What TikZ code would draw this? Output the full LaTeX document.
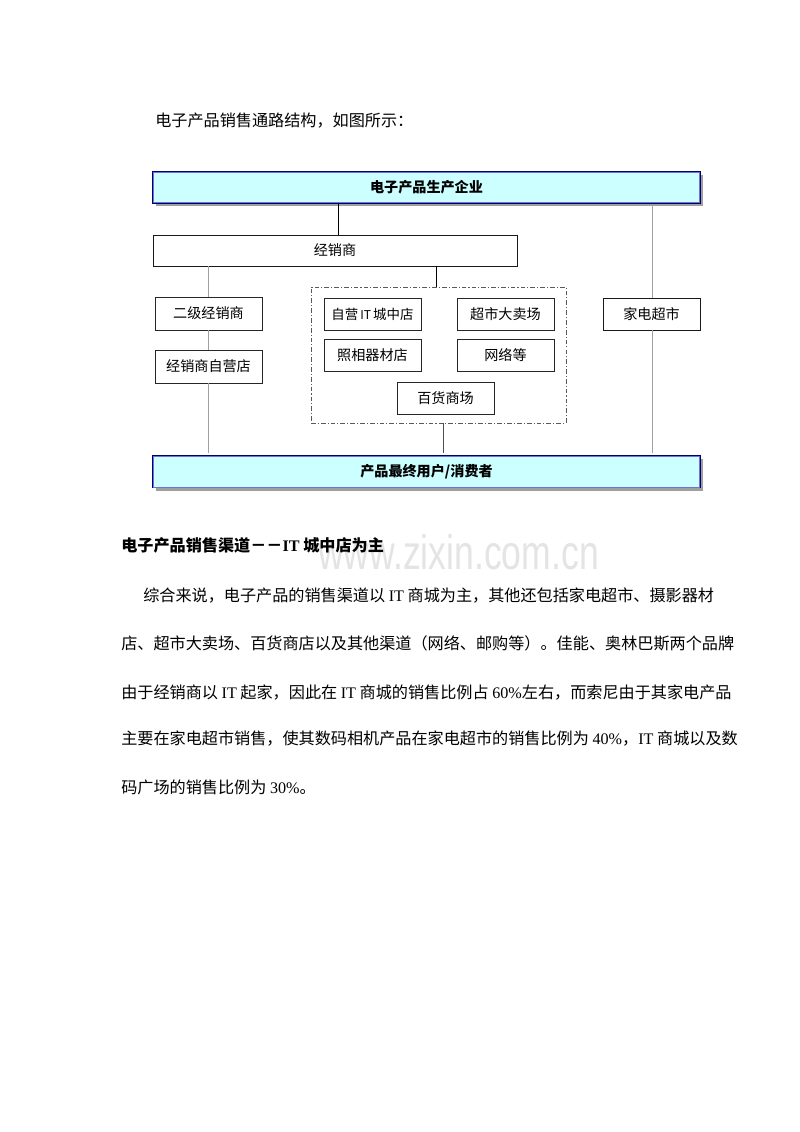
\documentclass[tikz,border=0pt]{standalone}
\usepackage{fontspec}
\setmainfont{Liberation Serif}
\newfontfamily\cjk{Noto Sans CJK SC}
\newfontfamily\lat{Liberation Serif}
\newfontfamily\wm{Liberation Sans}
\usetikzlibrary{shadows}
\definecolor{boxcyan}{HTML}{CCFFFF}
\definecolor{navy}{HTML}{000066}
\definecolor{innerblue}{HTML}{7070E0}
\definecolor{lineg}{HTML}{A0A0A0}
\definecolor{wmgray}{HTML}{E4E4E4}
\newcommand{\IT}{{\lat IT}}
\tikzset{
  x=0.744pt, y=-0.744pt,
  cyanbox/.style={draw=navy, line width=1.4pt, fill=boxcyan, inner sep=0pt,
    minimum width=547*0.744pt, minimum height=31*0.744pt,
    font=\cjk\fontsize{10.5}{12}\selectfont\bfseries,
    drop shadow={shadow xshift=3.2*0.744pt, shadow yshift=-3.2*0.744pt, fill=gray!75, opacity=1}},
  innerln/.style={draw=innerblue, line width=0.4pt},
  whitebox/.style={draw=black!85, line width=0.6pt, fill=white, inner sep=0pt,
    minimum width=97*0.744pt, minimum height=32*0.744pt,
    font=\cjk\fontsize{10.5}{12}\selectfont},
  shadowbox/.style={whitebox, draw=black!90, line width=0.7pt,
    drop shadow={shadow xshift=1.3*0.744pt, shadow yshift=-1.3*0.744pt, fill=gray!60, opacity=1}},
  cont/.style={draw=black!65, line width=0.6pt, dash pattern=on 3.5pt off 1.5pt on 0.8pt off 1.5pt,
    inner sep=0pt, minimum width=255*0.744pt, minimum height=136*0.744pt},
  blk/.style={draw=black, line width=0.6pt},
  gry/.style={draw=lineg, line width=0.7pt},
  dgry/.style={draw=black!70, line width=0.6pt},
  bodytext/.style={anchor=base west, inner sep=0pt, font=\cjk\fontsize{12}{14}\selectfont}
}
\begin{document}
\begin{tikzpicture}
\useasboundingbox[fill=white] (0,0) rectangle (800,1132);

% intro line
\node[bodytext] (intro) at (155,126) {电子产品销售通路结构，如图所示：};

% diagram
\node[cyanbox] (top) at (426.5,187.5) {电子产品生产企业};
\draw[innerln] ([shift={(1.6,1.6)}]top.north west) rectangle ([shift={(-1.6,-1.6)}]top.south east);
\node[shadowbox, minimum width=364*0.744pt, minimum height=31*0.744pt] (dealer) at (335,250.5) {经销商};
\node[whitebox, minimum width=107*0.744pt, minimum height=33*0.744pt] (d2) at (208.5,313.5) {二级经销商};
\node[whitebox, minimum width=107*0.744pt, minimum height=33*0.744pt] (d3) at (208.5,366.5) {经销商自营店};
\node[cont] (box) at (438.5,355) {};
\node[whitebox, font=\cjk\fontsize{10}{12}\selectfont] (it) at (372.5,314) {自营{\fontsize{9}{10}\selectfont\,IT\,}城中店};
\node[whitebox] (sm) at (505.5,314) {超市大卖场};
\node[whitebox] (ph) at (372.5,355.5) {照相器材店};
\node[whitebox] (net) at (505.5,355.5) {网络等};
\node[whitebox] (dept) at (445.5,398) {百货商场};
\node[shadowbox] (home) at (651.5,314) {家电超市};
\node[cyanbox, minimum height=32*0.744pt] (bot) at (426.5,471.5) {产品最终用户/消费者};
\draw[innerln] ([shift={(1.6,1.6)}]bot.north west) rectangle ([shift={(-1.6,-1.6)}]bot.south east);

\coordinate (xa) at (338,0);
\coordinate (xb) at (652,0);
\coordinate (xc) at (208,0);
\coordinate (xd) at (436,0);
\coordinate (xe) at (443,0);

\draw[blk] (top.south -| xa) -- (dealer.north -| xa);
\draw[gry] ([yshift=-1pt]top.south -| xb) -- (home.north -| xb);
\draw[gry] (home.south -| xb) -- ([yshift=1pt]bot.north -| xb);
\draw[gry] (dealer.south -| xc) -- (d2.north -| xc);
\draw[gry] (d2.south -| xc) -- (d3.north -| xc);
\draw[gry] (d3.south -| xc) -- ([yshift=1pt]bot.north -| xc);
\draw[blk] (dealer.south -| xd) -- (box.north -| xd);
\draw[dgry] (box.south -| xe) -- ([yshift=1pt]bot.north -| xe);

% watermark
\node[anchor=base west, inner sep=0pt, text=wmgray, font=\wm\fontsize{36}{40}\selectfont, xscale=0.735] (wmk) at (318,569) {www.zixin.com.cn};

% heading
\node[bodytext, font=\cjk\fontsize{12}{14}\selectfont\bfseries] (head) at (121,551) {电子产品销售渠道－－{\lat IT} 城中店为主};

% body
\node[bodytext] (l1) at (143,601) {综合来说，电子产品的销售渠道以 \IT\ 商城为主，其他还包括家电超市、摄影器材};
\node[bodytext] (l2) at (121,649) {店、超市大卖场、百货商店以及其他渠道（网络、邮购等）。佳能、奥林巴斯两个品牌};
\node[bodytext] (l3) at (121,698) {由于经销商以 \IT\ 起家，因此在 \IT\ 商城的销售比例占 {\lat 60\%}左右，而索尼由于其家电产品};
\node[bodytext] (l4) at (121,744) {主要在家电超市销售，使其数码相机产品在家电超市的销售比例为 {\lat 40\%}，\IT\ 商城以及数};
\node[bodytext] (l5) at (121,793) {码广场的销售比例为 {\lat 30\%}。};
\end{tikzpicture}
\end{document}
